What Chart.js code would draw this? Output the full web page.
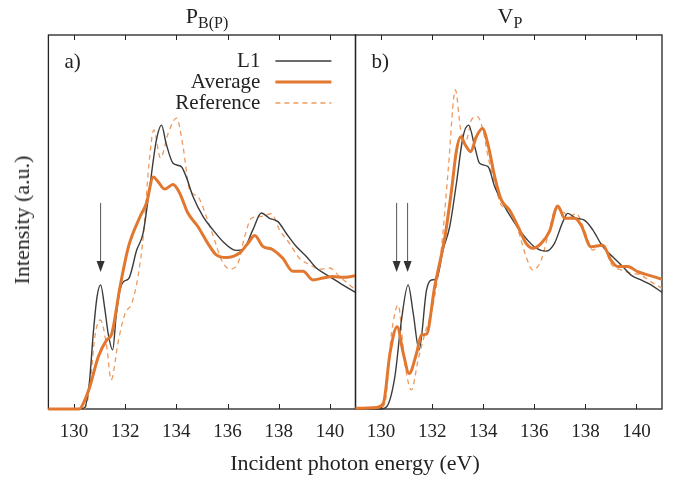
<!DOCTYPE html>
<html>
<head>
<meta charset="utf-8">
<script src="https://cdn.jsdelivr.net/npm/chart.js@4.4.1/dist/chart.umd.min.js"></script>
<style>
  body { margin: 0; background: #fff; }
  #wrap { position: relative; width: 678px; height: 477px; font-family: "Liberation Serif", serif; color: #222; }
  .box { position: absolute; top: 0; height: 477px; }
  .txt { position: absolute; white-space: nowrap; font-size: 22px; line-height: 26px; }
  .ttl { position: absolute; white-space: nowrap; font-size: 22px; line-height: 26px; transform: translateX(-50%); }
  .ttl sub { font-size: 16px; vertical-align: -5px; line-height: 0; }
</style>
</head>
<body>
<div id="wrap">
  <div class="box" style="left:0;width:362px"><canvas id="chart-a"></canvas></div>
  <div class="box" style="left:349px;width:329px"><canvas id="chart-b"></canvas></div>
  <div class="ttl" style="left:207px;top:3px">P<sub>B(P)</sub></div>
  <div class="ttl" style="left:510px;top:3px">V<sub>P</sub></div>
  <div class="txt" style="left:355px;top:450px;transform:translateX(-50%)">Incident photon energy (eV)</div>
  <div class="txt" style="left:22px;top:220px;transform:translate(-50%,-50%) rotate(-90deg)">Intensity (a.u.)</div>
</div>
<script>
// energy axis
const x_min = 129, x_max = 141;
const tick_values = [130, 132, 134, 136, 138, 140];

// panel a) P_B(P)
const pb_l1_e = [129, 130.0, 130.4, 130.6, 130.75, 130.9, 131.04, 131.2, 131.34, 131.51, 131.65, 131.8, 131.93, 132.15, 132.45, 132.7, 132.96, 133.22, 133.42, 133.6, 133.87, 134.19, 134.39, 134.65, 135.04, 135.43, 135.89, 136.34, 136.6, 136.99, 137.32, 137.64, 137.97, 138.29, 138.68, 139.08, 139.47, 139.99, 140.5, 141.0];
const pb_l1_i = [0, 0, 0.003, 0.07, 0.2, 0.3, 0.332, 0.27, 0.2, 0.158, 0.25, 0.32, 0.34, 0.35, 0.425, 0.47, 0.594, 0.719, 0.759, 0.71, 0.657, 0.648, 0.62, 0.568, 0.515, 0.479, 0.443, 0.424, 0.426, 0.479, 0.524, 0.51, 0.501, 0.47, 0.435, 0.408, 0.377, 0.354, 0.332, 0.312];
const pb_avg_e = [129, 130.2, 130.4, 130.62, 130.95, 131.28, 131.47, 131.8, 132.13, 132.58, 132.83, 133.1, 133.28, 133.54, 133.87, 134.13, 134.45, 134.84, 135.23, 135.56, 135.95, 136.47, 136.8, 137.06, 137.38, 137.77, 138.16, 138.55, 138.95, 139.34, 139.73, 140.12, 140.51, 141.0];
const pb_avg_i = [0, 0, 0.02, 0.06, 0.14, 0.185, 0.2, 0.327, 0.434, 0.514, 0.55, 0.62, 0.608, 0.588, 0.6, 0.577, 0.524, 0.488, 0.443, 0.412, 0.405, 0.417, 0.443, 0.464, 0.435, 0.426, 0.403, 0.368, 0.368, 0.345, 0.35, 0.354, 0.352, 0.356];
const pb_ref_e = [129, 130.4, 130.6, 130.83, 131.03, 131.28, 131.45, 131.74, 132.0, 132.26, 132.5, 132.72, 132.92, 133.12, 133.38, 133.68, 134.01, 134.26, 134.52, 134.84, 135.17, 135.49, 135.76, 136.08, 136.41, 136.67, 136.93, 137.32, 137.71, 138.03, 138.42, 138.81, 139.2, 139.6, 139.99, 140.38, 140.83, 141.0];
const pb_ref_i = [0, 0, 0.05, 0.2, 0.238, 0.167, 0.078, 0.185, 0.256, 0.283, 0.354, 0.47, 0.648, 0.746, 0.671, 0.737, 0.778, 0.702, 0.586, 0.568, 0.515, 0.452, 0.399, 0.374, 0.39, 0.461, 0.51, 0.515, 0.522, 0.479, 0.443, 0.403, 0.386, 0.374, 0.377, 0.354, 0.328, 0.319];
const pb_arrows = [131.04];

// panel b) V_P
const vp_l1_e = [129, 130.0, 130.22, 130.54, 130.8, 131.06, 131.26, 131.49, 131.78, 131.97, 132.17, 132.43, 132.69, 132.95, 133.21, 133.43, 133.67, 133.86, 134.19, 134.45, 134.77, 135.16, 135.62, 136.07, 136.46, 136.79, 137.12, 137.31, 137.64, 137.96, 138.29, 138.68, 139.07, 139.46, 139.79, 140.18, 140.57, 141.0];
const vp_l1_i = [0, 0, 0.006, 0.086, 0.238, 0.332, 0.256, 0.158, 0.318, 0.345, 0.347, 0.426, 0.488, 0.603, 0.728, 0.759, 0.701, 0.657, 0.648, 0.594, 0.55, 0.505, 0.461, 0.43, 0.422, 0.443, 0.501, 0.523, 0.51, 0.505, 0.479, 0.434, 0.407, 0.381, 0.358, 0.345, 0.332, 0.312];
const vp_avg_e = [129, 129.8, 130.09, 130.35, 130.63, 130.87, 131.1, 131.39, 131.58, 131.78, 132.1, 132.5, 132.76, 132.95, 133.12, 133.3, 133.51, 133.73, 133.97, 134.19, 134.45, 134.71, 135.03, 135.36, 135.68, 135.94, 136.27, 136.59, 136.92, 137.19, 137.58, 137.83, 138.22, 138.68, 139.0, 139.26, 139.66, 140.05, 140.57, 141.0];
const vp_avg_i = [0.002, 0.004, 0.015, 0.149, 0.22, 0.149, 0.095, 0.149, 0.198, 0.2, 0.327, 0.46, 0.585, 0.69, 0.728, 0.706, 0.688, 0.728, 0.75, 0.706, 0.621, 0.559, 0.532, 0.488, 0.443, 0.43, 0.443, 0.474, 0.543, 0.51, 0.51, 0.492, 0.434, 0.438, 0.398, 0.381, 0.381, 0.367, 0.356, 0.347];
const vp_ref_e = [129, 129.9, 130.15, 130.41, 130.67, 130.93, 131.19, 131.45, 131.71, 132.04, 132.37, 132.63, 132.91, 133.12, 133.34, 133.54, 133.77, 133.99, 134.19, 134.45, 134.71, 135.03, 135.36, 135.68, 135.94, 136.27, 136.59, 136.85, 137.12, 137.38, 137.64, 137.96, 138.29, 138.68, 139.0, 139.39, 139.79, 140.18, 140.57, 141.0];
const vp_ref_i = [0, 0, 0.015, 0.202, 0.278, 0.122, 0.051, 0.131, 0.2, 0.28, 0.434, 0.639, 0.853, 0.746, 0.72, 0.773, 0.782, 0.746, 0.675, 0.603, 0.545, 0.532, 0.479, 0.407, 0.372, 0.398, 0.479, 0.537, 0.528, 0.514, 0.523, 0.479, 0.425, 0.443, 0.389, 0.372, 0.363, 0.358, 0.34, 0.323];
const vp_arrows = [130.61, 131.04];

// arrow shaft top / tip in intensity units
const arrow_top = 0.551, arrow_tip = 0.366;

const c_l1 = '#3b3b3b';
const c_orange = '#e2782f';
const c_ref = '#ee9a5e';
const serif = '"Liberation Serif", serif';

function pts(xs, ys) {
    return xs.map((x, i) => ({x: x, y: ys[i]}));
}

// frame + inward ticks under the curves; arrows, panel letter, legend on top
const decor = {
    id: 'decor',
    beforeDatasetsDraw(chart) {
        const ctx = chart.ctx;
        const a = chart.chartArea;
        const xs = chart.scales.x;
        ctx.save();
        ctx.strokeStyle = '#222';
        ctx.lineWidth = 1.3;
        ctx.strokeRect(a.left, a.top, a.right - a.left, a.bottom - a.top);
        ctx.lineWidth = 1;
        for (let t of tick_values) {
            let px = Math.round(xs.getPixelForValue(t)) + 0.5;
            ctx.beginPath();
            ctx.moveTo(px, a.bottom);
            ctx.lineTo(px, a.bottom - 5);
            ctx.moveTo(px, a.top);
            ctx.lineTo(px, a.top + 5);
            ctx.stroke();
        }
        ctx.restore();
    },
    afterDatasetsDraw(chart, args, opts) {
        const ctx = chart.ctx;
        const a = chart.chartArea;
        const xs = chart.scales.x, ys = chart.scales.y;
        ctx.save();
        // arrows
        ctx.strokeStyle = '#555';
        ctx.fillStyle = '#333';
        ctx.lineWidth = 1;
        for (let e of opts.arrows) {
            let px = xs.getPixelForValue(e);
            let y0 = ys.getPixelForValue(arrow_top);
            let y1 = ys.getPixelForValue(arrow_tip);
            ctx.beginPath();
            ctx.moveTo(px, y0);
            ctx.lineTo(px, y1 - 8);
            ctx.stroke();
            ctx.beginPath();
            ctx.moveTo(px - 4, y1 - 11);
            ctx.lineTo(px + 4, y1 - 11);
            ctx.lineTo(px, y1);
            ctx.closePath();
            ctx.fill();
        }
        // panel letter
        ctx.fillStyle = '#222';
        ctx.font = '21px ' + serif;
        ctx.textBaseline = 'middle';
        ctx.textAlign = 'left';
        ctx.fillText(opts.letter, a.left + 16, a.top + 27);
        // legend
        if (opts.legend) {
            const rows = [
                ['L1', c_l1, 1.5, []],
                ['Average', c_orange, 3, []],
                ['Reference', c_ref, 1.3, [5, 4]]
            ];
            ctx.textAlign = 'right';
            rows.forEach((r, i) => {
                let yy = a.top + 26 + i * 21;
                ctx.fillStyle = '#222';
                ctx.fillText(r[0], a.left + 212, yy);
                ctx.strokeStyle = r[1];
                ctx.lineWidth = r[2];
                ctx.setLineDash(r[3]);
                ctx.beginPath();
                ctx.moveTo(a.left + 227, yy);
                ctx.lineTo(a.left + 283, yy);
                ctx.stroke();
            });
            ctx.setLineDash([]);
        }
        ctx.restore();
    }
};

function build_panel(canvas_id, l1, avg, ref, arrows, letter, legend, pad) {
    const canv = document.getElementById(canvas_id);
    return new Chart(canv, {
        type: 'line',
        data: {
            datasets: [
                {
                    label: 'Average',
                    data: avg,
                    borderColor: c_orange,
                    borderWidth: 3,
                    clip: 3,
                    order: 0
                },
                {
                    label: 'L1',
                    data: l1,
                    borderColor: c_l1,
                    borderWidth: 1.4,
                    clip: 3,
                    order: 1
                },
                {
                    label: 'Reference',
                    data: ref,
                    borderColor: c_ref,
                    borderWidth: 1.3,
                    borderDash: [5, 4],
                    clip: 3,
                    order: 2
                }
            ]
        },
        options: {
            responsive: true,
            maintainAspectRatio: false,
            animation: false,
            devicePixelRatio: 1,
            layout: { padding: pad },
            elements: {
                point: { radius: 0 },
                line: { cubicInterpolationMode: 'monotone', fill: false }
            },
            plugins: {
                legend: { display: false },
                tooltip: { enabled: false },
                decor: { arrows: arrows, letter: letter, legend: legend }
            },
            scales: {
                x: {
                    type: 'linear',
                    min: x_min,
                    max: x_max,
                    afterBuildTicks: (s) => { s.ticks = tick_values.map((v) => ({value: v})); },
                    afterFit: (s) => { s.height = 68; },
                    grid: { display: false, drawTicks: false },
                    border: { display: false },
                    ticks: {
                        padding: 12,
                        maxRotation: 0,
                        color: '#222',
                        font: { family: serif, size: 19 }
                    }
                },
                y: {
                    min: 0,
                    max: 1,
                    display: false
                }
            }
        },
        plugins: [decor]
    });
}

build_panel('chart-a', pts(pb_l1_e, pb_l1_i), pts(pb_avg_e, pb_avg_i), pts(pb_ref_e, pb_ref_i),
    pb_arrows, 'a)', true, {left: 48.4, top: 35, right: 6.5, bottom: 0});
build_panel('chart-b', pts(vp_l1_e, vp_l1_i), pts(vp_avg_e, vp_avg_i), pts(vp_ref_e, vp_ref_i),
    vp_arrows, 'b)', false, {left: 6.5, top: 35, right: 16, bottom: 0});
</script>
</body>
</html>
